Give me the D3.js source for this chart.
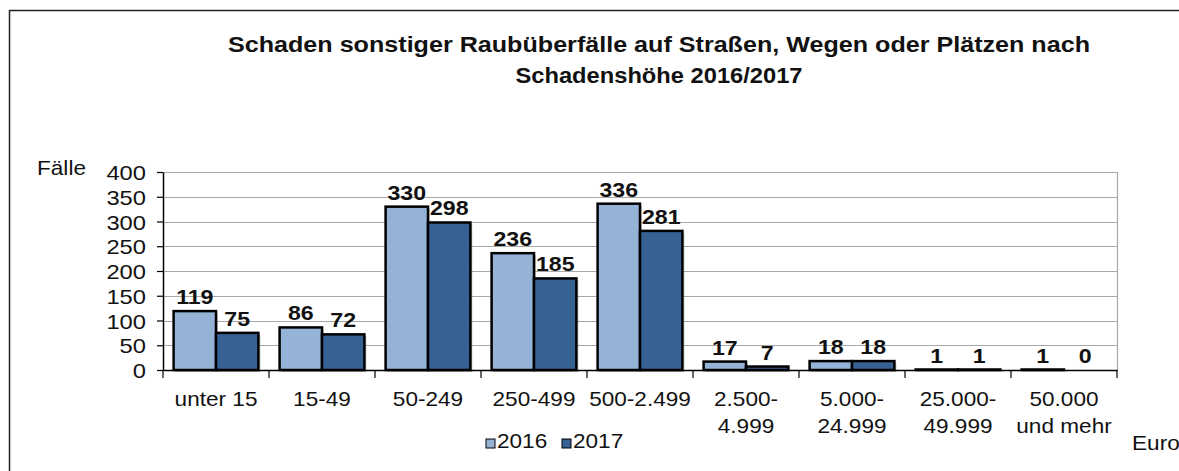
<!DOCTYPE html>
<html>
<head>
<meta charset="utf-8">
<script src="https://cdn.jsdelivr.net/npm/d3@7"></script>
<style>
  html, body { margin: 0; padding: 0; background: #fff; overflow: hidden; }
  svg { display: block; overflow: hidden; }
  text { font-family: "Liberation Sans", Arial, sans-serif; fill: #111; }
</style>
</head>
<body>
<svg id="chart" width="1179" height="471"></svg>
<script>
// Damage classes (Euro), one label line per array entry
const categories = [
  ["unter 15"], ["15-49"], ["50-249"], ["250-499"], ["500-2.499"],
  ["2.500-", "4.999"], ["5.000-", "24.999"], ["25.000-", "49.999"], ["50.000", "und mehr"]
];
const years = ["2016", "2017"];
const values2016 = [119, 86, 330, 236, 336, 17, 18, 1, 1];
const values2017 = [75, 72, 298, 185, 281, 7, 18, 1, 0];
const yTicks = [0, 50, 100, 150, 200, 250, 300, 350, 400];
const colors = ["#95B3D7", "#376193"];
const titleLines = [
  "Schaden sonstiger Raubüberfälle auf Straßen, Wegen oder Plätzen nach",
  "Schadenshöhe 2016/2017"
];

const svg = d3.select("#chart");
const plot = { left: 163, right: 1117, top: 172, bottom: 370 };
const SX = 1.13; // horizontal stretch of the label lettering

// Outer frame: left and top edges
svg.append("line")
  .attr("x1", 9.5).attr("x2", 9.5).attr("y1", 10).attr("y2", 471)
  .attr("stroke", "#222").attr("stroke-width", 1.5);
svg.append("line")
  .attr("x1", 9).attr("x2", 1179).attr("y1", 10.5).attr("y2", 10.5)
  .attr("stroke", "#222").attr("stroke-width", 1.5);

// Title
const titleW = [862, 287];
titleLines.forEach((t, i) => {
  svg.append("text")
    .attr("x", 659 - titleW[i] / 2).attr("y", 52 + i * 31)
    .attr("textLength", titleW[i]).attr("lengthAdjust", "spacingAndGlyphs")
    .style("font-size", "21.5px").style("font-weight", "bold")
    .text(t);
});

const keys = categories.map(c => c.join(" "));
const x = d3.scaleBand().domain(keys).range([plot.left, plot.right])
  .paddingInner(0.2).paddingOuter(0.1);
const xs = d3.scaleBand().domain(years).range([0, x.bandwidth()]);
const y = d3.scaleLinear().domain([0, 400]).range([plot.bottom, plot.top]);

// Gridlines
svg.append("g").selectAll("line").data(yTicks.filter(v => v > 0)).join("line")
  .attr("x1", plot.left).attr("x2", plot.right)
  .attr("y1", d => Math.round(y(d)) + 0.5).attr("y2", d => Math.round(y(d)) + 0.5)
  .attr("stroke", "#A8A8A8").attr("stroke-width", 1.2);
svg.append("line")
  .attr("x1", plot.right + 0.5).attr("x2", plot.right + 0.5)
  .attr("y1", y(400)).attr("y2", plot.bottom)
  .attr("stroke", "#A8A8A8").attr("stroke-width", 1.2);

// Bars
const series = [values2016, values2017];
const barData = [];
keys.forEach((k, i) => years.forEach((yr, j) => barData.push({ k, yr, j, v: series[j][i] })));

const bars = svg.append("g");
// faint drop shadow
bars.selectAll("rect.shadow").data(barData.filter(d => d.v > 0)).join("rect")
  .attr("class", "shadow")
  .attr("x", d => x(d.k) + xs(d.yr) + 2)
  .attr("y", d => y(d.v) + 2)
  .attr("width", xs.bandwidth())
  .attr("height", d => y(0) - y(d.v))
  .attr("fill", "#000").attr("opacity", 0.2);
bars.selectAll("rect.bar").data(barData).join("rect")
  .attr("class", "bar")
  .attr("x", d => x(d.k) + xs(d.yr))
  .attr("y", d => y(d.v))
  .attr("width", xs.bandwidth())
  .attr("height", d => y(0) - y(d.v))
  .attr("fill", d => colors[d.j])
  .attr("stroke", "#000").attr("stroke-width", 2.5);

// Value labels
svg.append("g").selectAll("g").data(barData).join("g")
  .attr("transform", d => `translate(${x(d.k) + xs(d.yr) + xs.bandwidth() / 2},${y(d.v) - 7})`)
  .append("text")
  .attr("text-anchor", "middle")
  .attr("transform", `scale(${SX},1)`)
  .style("font-size", "20.5px").style("font-weight", "bold")
  .text(d => d.v);

// Y axis
const yAxis = svg.append("g")
  .attr("transform", `translate(${plot.left},0)`)
  .call(d3.axisLeft(y).tickValues(yTicks).tickSize(6).tickSizeOuter(0));
yAxis.select(".domain").attr("stroke", "#000").attr("stroke-width", 1.5);
yAxis.selectAll(".tick line").attr("stroke", "#000").attr("stroke-width", 1.2);
yAxis.selectAll(".tick text")
  .attr("x", 0).attr("dy", "0.36em")
  .attr("transform", `translate(-17,0) scale(${SX},1)`)
  .style("font-size", "21px").style("font-family", "Liberation Sans, Arial, sans-serif")
  .attr("fill", "#111");

// X axis: labels centred on the groups, ticks on the group boundaries
const xAxis = svg.append("g")
  .attr("transform", `translate(0,${plot.bottom})`)
  .call(d3.axisBottom(x).tickSize(0).tickSizeOuter(0).tickFormat(""));
xAxis.select(".domain").attr("stroke", "#000").attr("stroke-width", 1.5);
const bounds = d3.range(keys.length + 1).map(i => plot.left + i * x.step());
xAxis.append("g").selectAll("line").data(bounds).join("line")
  .attr("x1", d => d).attr("x2", d => d).attr("y1", 0).attr("y2", 8)
  .attr("stroke", "#000").attr("stroke-width", 1.2);
xAxis.selectAll(".tick").each(function(k, i) {
  const t = d3.select(this).append("text")
    .attr("text-anchor", "middle")
    .attr("transform", `translate(0,36) scale(${SX},1)`)
    .style("font-size", "20px").style("font-family", "Liberation Sans, Arial, sans-serif")
    .attr("fill", "#111");
  categories[i].forEach((line, li) => {
    t.append("tspan").attr("x", 0).attr("y", li * 27).text(line);
  });
});

// Axis titles
function label(txt, px, py, anchor) {
  svg.append("g").attr("transform", `translate(${px},${py})`)
    .append("text").attr("text-anchor", anchor || "start")
    .attr("transform", `scale(${SX},1)`)
    .style("font-size", "20px").text(txt);
}
label("Fälle", 37, 175);
label("Euro", 1132, 450);

// Legend
const legendX = [486, 562];
years.forEach((yr, j) => {
  svg.append("rect")
    .attr("x", legendX[j]).attr("y", 439).attr("width", 9).attr("height", 9)
    .attr("fill", colors[j]).attr("stroke", "#000").attr("stroke-width", 1);
  label(yr, legendX[j] + 11, 448);
});
</script>
</body>
</html>
